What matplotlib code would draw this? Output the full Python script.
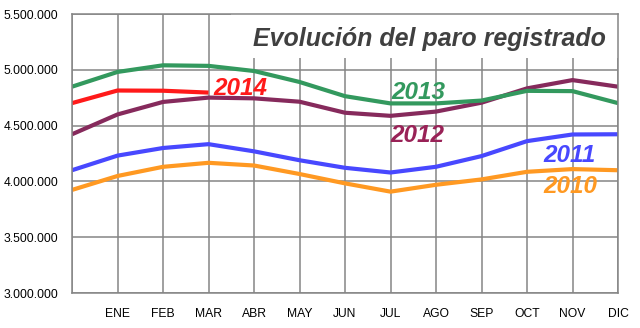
import matplotlib.pyplot as plt
import matplotlib.patches as mpatches

# position 0 = December of the previous year (no label)
months = ['', 'ENE', 'FEB', 'MAR', 'ABR', 'MAY', 'JUN', 'JUL', 'AGO', 'SEP', 'OCT', 'NOV', 'DIC']

paro_2010 = [3923603, 4048493, 4130625, 4166613, 4142425, 4066202, 3982368,
             3908262, 3969661, 4017763, 4085976, 4110294, 4100073]
paro_2011 = [4100073, 4231003, 4299263, 4333669, 4269360, 4189659, 4121801,
             4079742, 4130927, 4226744, 4360926, 4420462, 4422359]
paro_2012 = [4422359, 4599829, 4712098, 4750867, 4744235, 4714122, 4615269,
             4587455, 4625634, 4705279, 4833521, 4907817, 4848723]
paro_2013 = [4848723, 4980778, 5040222, 5035243, 4989193, 4890928, 4763680,
             4698814, 4698783, 4724355, 4811383, 4808908, 4701338]
paro_2014 = [4701338, 4814435, 4812486, 4795866]

yticks = [3000000, 3500000, 4000000, 4500000, 5000000, 5500000]

series = [
    ('2010', paro_2010, '#ff9922', (10.35, 3896000)),
    ('2011', paro_2011, '#4848ff', (10.35, 4174000)),
    ('2012', paro_2012, '#862a5c', (6.99, 4353000)),
    ('2013', paro_2013, '#33995e', (7.03, 4738000)),
    ('2014', paro_2014, '#ff1a1a', (3.10, 4774000)),
]
label_colors = {'2012': '#992257'}

fig = plt.figure(figsize=(6.4, 3.28), dpi=100)
ax = fig.add_axes([72 / 640, 1 - 293 / 328, 546 / 640, 279 / 328])

for name, vals, col, (tx, ty) in series:
    ax.plot(range(len(vals)), vals, color=col, lw=3.0, zorder=3,
            solid_capstyle='butt', solid_joinstyle='round')
    ax.text(tx, ty, name, color=label_colors.get(name, col), fontsize=17.5,
            fontweight='bold', fontstyle='italic', family='Liberation Sans',
            ha='left', va='baseline', zorder=5)

ax.set_xlim(0, 12)
ax.set_ylim(3000000, 5500000)
ax.set_xticks(range(13))
ax.set_xticklabels(months)
ax.set_yticks(yticks)
ax.set_yticklabels(['{:,}'.format(v).replace(',', '.') for v in yticks])
ax.tick_params(length=0, labelsize=8.7)
ax.tick_params(axis='x', pad=11)
ax.tick_params(axis='y', pad=10)
for lab in ax.get_xticklabels() + ax.get_yticklabels():
    lab.set_family('Liberation Sans')

ax.grid(True, color='#858585', lw=1.1, zorder=1)
ax.set_axisbelow(True)
for s in ax.spines.values():
    s.set_color('#858585')
    s.set_linewidth(1.1)
    s.set_zorder(4)

# white box behind the title hides the grid
ax.add_patch(mpatches.Rectangle((3.5, 5106000), 8.5, 394000, facecolor='white',
                                edgecolor='none', zorder=2))
ax.text(3.98, 5213000, 'Evolución del paro registrado', color='#404040',
        fontsize=18, fontweight='bold', fontstyle='italic',
        family='Liberation Sans', ha='left', va='baseline', zorder=5)

fig.savefig('out.png', dpi=100)
